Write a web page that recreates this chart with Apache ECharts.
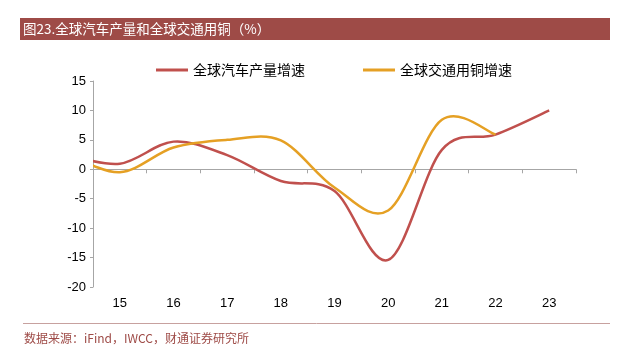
<!DOCTYPE html>
<html lang="zh">
<head>
    <meta charset="UTF-8">
    <title>全球汽车产量和全球交通用铜</title>
    <style>
        html, body { margin: 0; padding: 0; background: #fff; }
        #chart { width: 635px; height: 352px; }
    </style>
    <script src="https://cdn.jsdelivr.net/npm/echarts@6/dist/echarts.min.js"></script>
</head>
<body>
    <div id="chart"></div>
    <script>
        // 年份（两位数），14 年只用于曲线左端的延伸，不显示标签
        var years = [14, 15, 16, 17, 18, 19, 20, 21, 22, 23];
        var labelYears = [15, 16, 17, 18, 19, 20, 21, 22, 23];

        // 全球汽车产量增速 (%)
        var autoGrowth = [2.5, 0.95, 4.7, 2.4, -2.0, -3.7, -15.4, 3.3, 5.9, 10.0];
        // 全球交通用铜增速 (%)，到 22 年为止
        var copperGrowth = [2.8, -0.5, 3.7, 5.0, 4.9, -3.1, -7.0, 8.4, 5.9];

        var seriesNames = ['全球汽车产量增速', '全球交通用铜增速'];
        var lineColors = ['#C0504D', '#E5A024'];
        var yTicks = { min: -20, max: 15, step: 5 };

        function pairs(xs, ys) {
            return ys.map(function (v, i) { return [xs[i], v]; });
        }

        // 刻度线在两个年份之间
        var tickValues = labelYears.map(function (y) { return y - 0.5; });
        tickValues.push(labelYears[labelYears.length - 1] + 0.5);

        var xMin = labelYears[0] - 0.5;
        var xMax = labelYears[labelYears.length - 1] + 0.5;

        var cjk = '"Noto Sans CJK SC", sans-serif';
        var latin = '"Liberation Sans", Arial, sans-serif';

        // Excel 风格的平滑曲线（Catmull-Rom，系数 1/6），点位全部经坐标轴换算
        function smoothLine(data, color) {
            return function (params, api) {
                if (params.dataIndex !== 0) return;
                var p = data.map(function (d) { return api.coord(d); });
                var n = p.length;
                var path = 'M' + p[0][0] + ',' + p[0][1];
                for (var i = 0; i < n - 1; i++) {
                    var a = p[i - 1] || p[i];
                    var b = p[i];
                    var c = p[i + 1];
                    var d = p[i + 2] || p[i + 1];
                    var c1x = b[0] + (c[0] - a[0]) / 6, c1y = b[1] + (c[1] - a[1]) / 6;
                    var c2x = c[0] - (d[0] - b[0]) / 6, c2y = c[1] - (d[1] - b[1]) / 6;
                    path += ' C' + c1x + ',' + c1y + ' ' + c2x + ',' + c2y + ' ' + c[0] + ',' + c[1];
                }
                return {
                    type: 'path',
                    shape: { pathData: path },
                    style: { fill: 'none', stroke: color, lineWidth: 2.5, lineJoin: 'round' }
                };
            };
        }

        var autoData = pairs(years, autoGrowth);
        var copperData = pairs(years, copperGrowth);

        var option = {
            animation: false,
            color: lineColors,
            grid: { left: 93, right: 59, top: 81, bottom: 65 },
            legend: {
                left: 151,
                top: 58,
                icon: 'rect',
                itemWidth: 32,
                itemHeight: 3,
                itemGap: 58,
                textStyle: { fontFamily: cjk, fontSize: 14, color: '#000' },
                data: seriesNames
            },
            xAxis: [
                {
                    // 零线和刻度
                    type: 'value',
                    position: 'top',
                    min: xMin,
                    max: xMax,
                    axisLine: { show: true, onZero: true, lineStyle: { color: '#A6A6A6', width: 1 } },
                    axisTick: { show: true, inside: true, length: 4, customValues: tickValues,
                        lineStyle: { color: '#A6A6A6' } },
                    axisLabel: { show: false },
                    splitLine: { show: false }
                },
                {
                    // 底部年份标签
                    type: 'value',
                    position: 'bottom',
                    min: xMin,
                    max: xMax,
                    axisLine: { show: false, onZero: false },
                    axisTick: { show: false },
                    axisLabel: {
                        customValues: labelYears,
                        margin: 10,
                        fontFamily: latin,
                        fontSize: 13,
                        color: '#000'
                    },
                    splitLine: { show: false }
                }
            ],
            yAxis: {
                type: 'value',
                min: yTicks.min,
                max: yTicks.max,
                interval: yTicks.step,
                axisLine: { show: true, lineStyle: { color: '#A6A6A6', width: 1 } },
                axisTick: { show: true, length: 3, lineStyle: { color: '#A6A6A6' } },
                axisLabel: { margin: 7, fontFamily: latin, fontSize: 13, color: '#000' },
                splitLine: { show: false }
            },
            series: [
                {
                    name: seriesNames[0],
                    type: 'custom',
                    xAxisIndex: 0,
                    clip: true,
                    itemStyle: { color: lineColors[0] },
                    renderItem: smoothLine(autoData, lineColors[0]),
                    data: autoData
                },
                {
                    name: seriesNames[1],
                    type: 'custom',
                    xAxisIndex: 0,
                    clip: true,
                    itemStyle: { color: lineColors[1] },
                    renderItem: smoothLine(copperData, lineColors[1]),
                    data: copperData
                }
            ],
            graphic: [
                {
                    type: 'rect',
                    shape: { x: 20, y: 18, width: 590, height: 22 },
                    style: { fill: '#9E4B47' }
                },
                {
                    type: 'text',
                    x: 23,
                    y: 29,
                    style: {
                        text: '图23.全球汽车产量和全球交通用铜（%）',
                        fill: '#fff',
                        font: '13.5px ' + cjk,
                        verticalAlign: 'middle'
                    }
                },
                {
                    type: 'line',
                    shape: { x1: 23, y1: 323.5, x2: 610, y2: 323.5 },
                    style: { stroke: '#C7A19F', lineWidth: 1 }
                },
                {
                    type: 'text',
                    x: 24,
                    y: 338,
                    style: {
                        text: '数据来源：iFind，IWCC，财通证券研究所',
                        fill: '#9E4B47',
                        font: '12px ' + cjk,
                        verticalAlign: 'middle'
                    }
                }
            ]
        };

        var chart = echarts.init(document.getElementById('chart'));
        chart.setOption(option);
    </script>
</body>
</html>
